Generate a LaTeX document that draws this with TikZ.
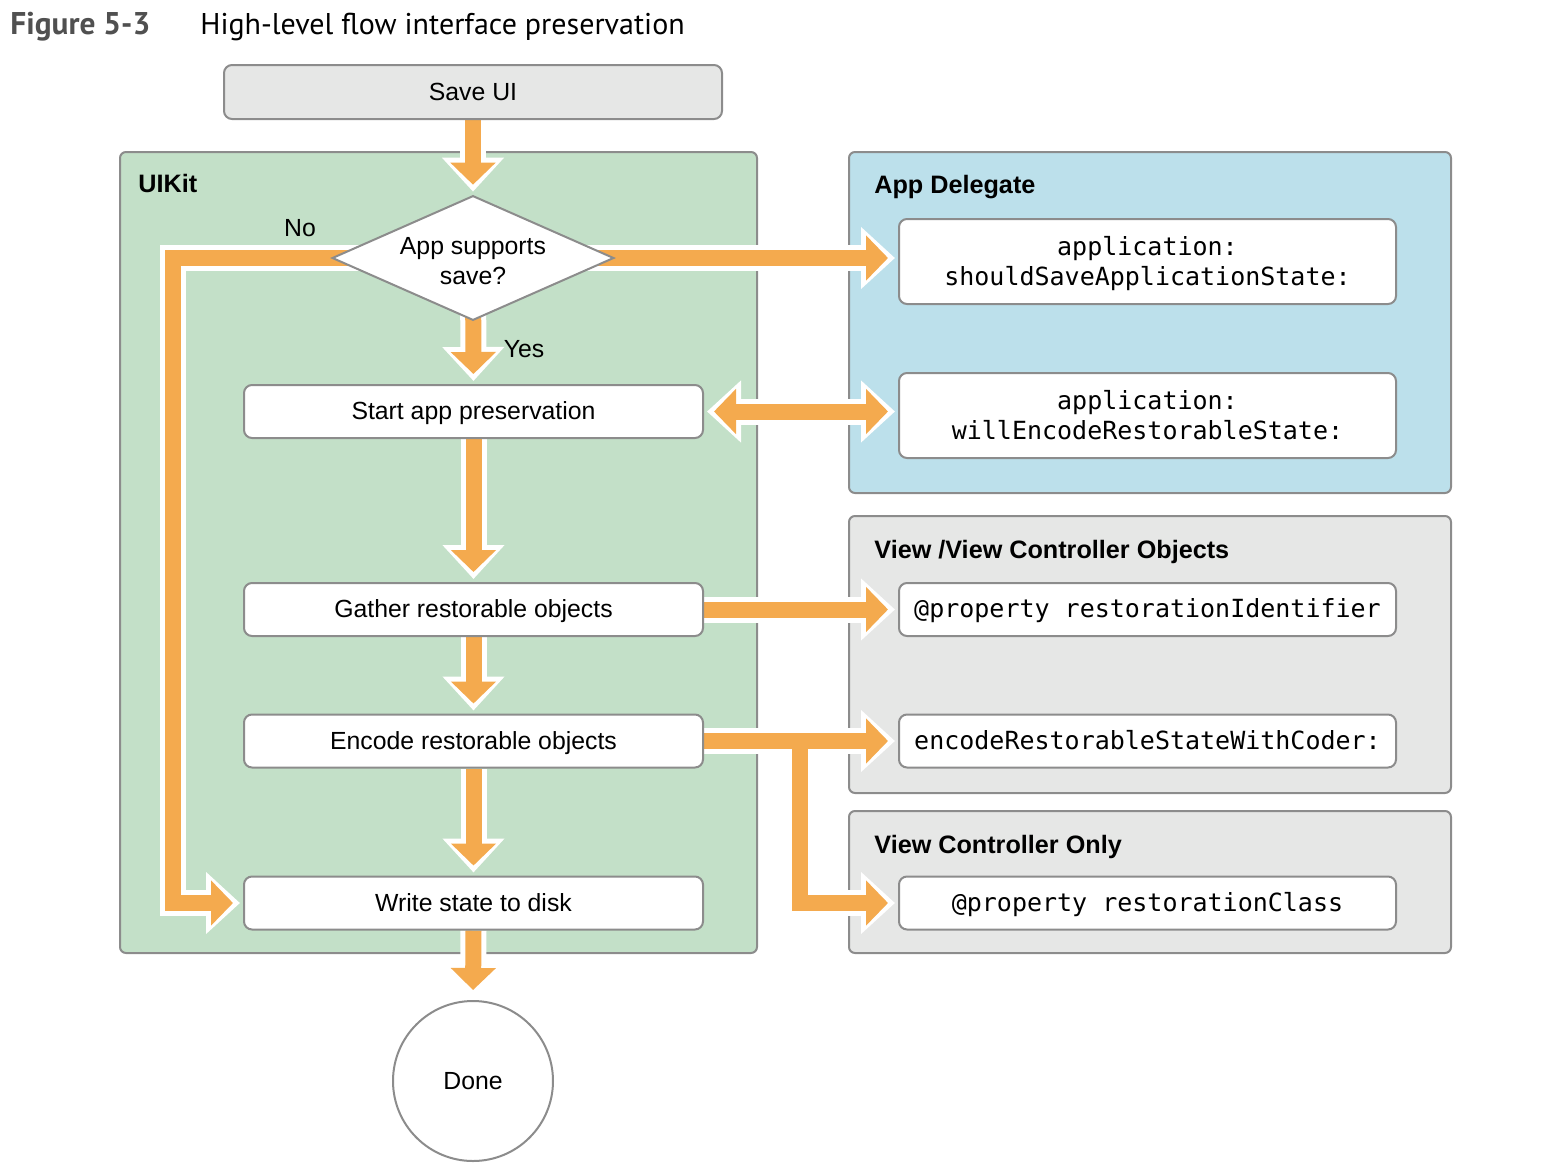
\documentclass[tikz,border=0pt]{standalone}
\usepackage{fontspec}
\setmainfont{Liberation Sans}
\setmonofont{DejaVu Sans Mono}
\newfontfamily\titlefont{PT Sans}
\usetikzlibrary{shapes.geometric,arrows.meta}
\definecolor{flowor}{HTML}{F4AA4E}
\definecolor{kitgreen}{HTML}{C3E0C8}
\definecolor{delblue}{HTML}{BCE0EB}
\definecolor{objgray}{HTML}{E6E7E6}
\definecolor{rimgray}{HTML}{8C8C8C}
\definecolor{titlegray}{HTML}{505050}
\pgfdeclarelayer{panels}
\pgfdeclarelayer{arrows}
\pgfsetlayers{panels,arrows,main}

\begin{document}
\begin{tikzpicture}[x=0.5pt, y=-0.5pt, font=\fontsize{12.4}{15}\selectfont]
    \tikzstyle{panel}=[draw=rimgray, line width=1pt, rounded corners=3pt]
    \tikzstyle{bnode}=[draw=rimgray, line width=1pt, fill=white, rounded corners=4pt, minimum width=229.5pt, minimum height=26.5pt, inner sep=0pt, text height=11pt, text depth=3pt]
    \tikzstyle{mnode}=[bnode, minimum width=248.5pt, font=\ttfamily\fontsize{12.5}{15}\selectfont, align=center]
    \tikzstyle{mtwo}=[mnode, minimum height=42.5pt, text height=26.5pt, text depth=3pt]
    \tikzstyle{dnode}=[diamond, draw=rimgray, line width=1pt, fill=white, aspect=2.26, minimum width=140pt, minimum height=62pt, inner sep=0pt, align=center, text height=28pt, text depth=2pt]
    \tikzstyle{plabel}=[anchor=west, inner sep=0pt, font=\bfseries\fontsize{12.6}{15}\selectfont]
    \tikzstyle{fwhite}=[draw=white, line width=13pt, -{Triangle[length=17pt,width=30pt]}, shorten >=1.5pt]
    \tikzstyle{forange}=[draw=flowor, line width=8pt, -{Triangle[length=11pt,width=22pt]}, shorten >=5pt]
    \tikzstyle{farr}=[forange, preaction={fwhite}]
    \tikzstyle{fboth}=[draw=flowor, line width=8pt, {Triangle[length=11pt,width=22pt]}-{Triangle[length=11pt,width=22pt]}, shorten >=5pt, shorten <=5pt,
        preaction={draw=white, line width=13pt, {Triangle[length=17pt,width=30pt]}-{Triangle[length=17pt,width=30pt]}, shorten >=1.5pt, shorten <=1.5pt}]
    
    \useasboundingbox (0,0) rectangle (1544,1174);
    
    \node[anchor=base west, inner sep=0pt, text=titlegray, font=\titlefont\bfseries\fontsize{15.7}{18}\selectfont] (fignum) at (10,34) {Figure 5-3};
    \node[anchor=base west, inner sep=0pt, font=\titlefont\fontsize{15}{18}\selectfont] (figtitle) at (200,34) {High-level flow interface preservation};
    
    \begin{pgfonlayer}{panels}
        \draw[panel, fill=kitgreen] (120,152) rectangle (757,953);
        \draw[panel, fill=delblue] (849,152) rectangle (1451,493);
        \draw[panel, fill=objgray] (849,516) rectangle (1451,793);
        \draw[panel, fill=objgray] (849,811) rectangle (1451,953);
    \end{pgfonlayer}
    
    \node[plabel] (kitlbl) at (138,183) {UIKit};
    \node[plabel] (dellbl) at (874,187) {App Delegate};
    \node[plabel] (objlbl) at (874,552) {View /View Controller Objects};
    \node[plabel] (onlylbl) at (874,847) {View Controller Only};
    
    \node[bnode, fill=objgray, minimum width=249pt, minimum height=27pt] (saveui) at (473,92) {Save UI};
    \node[dnode] (ask) at (473,258) {App supports\\save?};
    \node[bnode] (start) at (473.5,411.5) {Start app preservation};
    \node[bnode] (gather) at (473.5,609.5) {Gather restorable objects};
    \node[bnode] (encode) at (473.5,741) {Encode restorable objects};
    \node[bnode] (write) at (473.5,903) {Write state to disk};
    \node[circle, draw=rimgray, line width=1pt, fill=white, minimum size=80pt, inner sep=0pt] (done) at (473,1081) {Done};
    
    \node[mtwo] (shouldsave) at (1147.5,261.5) {application:\\shouldSaveApplicationState:};
    \node[mtwo] (willenc) at (1147.5,415.5) {application:\\willEncodeRestorableState:};
    \node[mnode] (resid) at (1147.5,609.5) {@property restorationIdentifier};
    \node[mnode] (encstate) at (1147.5,741) {encodeRestorableStateWithCoder:};
    \node[mnode] (vcclass) at (1147.5,903) {@property restorationClass};
    
    \node (nolbl) at (300,228) {No};
    \node (yeslbl) at (524,349) {Yes};
    
    \coordinate (nocorner) at (173,903);
    \coordinate (split) at (800,741);
    
    \begin{pgfonlayer}{arrows}
        \draw[farr] (saveui.south) -- (ask.north);
        \draw[farr] (ask.center) -- (start.north);
        \draw[farr] (ask.center) -| (nocorner) -- (write.west);
        \draw[farr] (ask.center) -- (ask.center -| shouldsave.west);
        \draw[fboth] (start.east) -- (start.east -| willenc.west);
        \draw[farr] (start.south) -- (gather.north);
        \draw[farr] (gather.east) -- (resid.west);
        \draw[farr] (gather.south) -- (encode.north);
        \draw[fwhite] (encode.east) -- (encstate.west);
        \draw[fwhite] (encode.east) -- (split) |- (vcclass.west);
        \draw[forange] (encode.east) -- (encstate.west);
        \draw[forange] (encode.east) -- (split) |- (vcclass.west);
        \draw[farr] (encode.south) -- (write.north);
        \draw[farr] (write.south) -- (done.north);
    \end{pgfonlayer}
    
\end{tikzpicture}
\end{document}
